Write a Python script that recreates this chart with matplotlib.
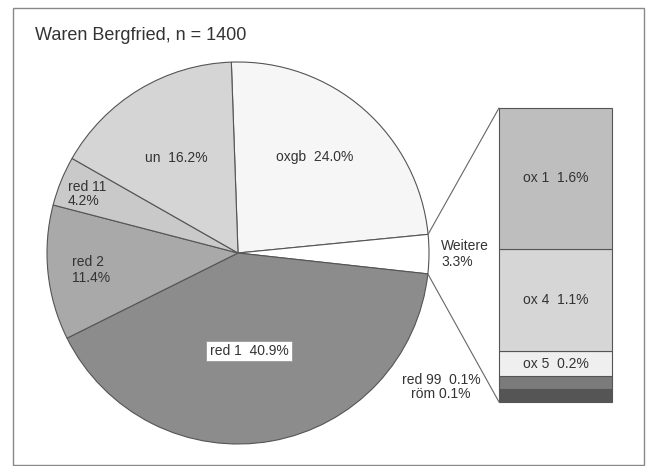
import matplotlib
matplotlib.use('Agg')
import matplotlib.pyplot as plt
from matplotlib.patches import ConnectionPatch, Rectangle
import numpy as np

plt.rcParams['font.family'] = ['Liberation Sans', 'DejaVu Sans']

# Pie data (clockwise from top)
pie_labels = ['oxgb', 'Weitere', 'red 1', 'red 2', 'red 11', 'un']
pie_values = [24.0, 3.3, 40.9, 11.4, 4.2, 16.2]
pie_colors = ['#f6f6f6', '#ffffff', '#8c8c8c', '#a9a9a9', '#c9c9c9', '#d5d5d5']

# Breakdown of "Weitere" (bottom to top), estimated counts out of n = 1400
sub_labels = ['röm', 'red 99', 'ox 5', 'ox 4', 'ox 1']
sub_counts = [2, 2, 4, 16, 22]
sub_pct = [0.1, 0.1, 0.2, 1.1, 1.6]
sub_colors = ['#555555', '#7b7b7b', '#efefef', '#d6d6d6', '#bebebe']

W, H = 646, 466
fig = plt.figure(figsize=(W / 100, H / 100), dpi=100)
text_col = '#333333'
edge_col = '#555555'

# frame around the whole chart
fig.patches.append(Rectangle((13 / W, 1 / H), 631 / W, 457 / H, transform=fig.transFigure,
                             fill=False, edgecolor='#888888', lw=1.0))

fig.text(35 / W, 1 - 35 / H, 'Waren Bergfried, n = 1400', fontsize=13,
         color=text_col, va='center', ha='left')

# pie axes
cx, cy, r = 238, 253, 191
ax = fig.add_axes([(cx - r) / W, (H - cy - r) / H, 2 * r / W, 2 * r / H])
wedges, _ = ax.pie(pie_values, colors=pie_colors, startangle=92, counterclock=False,
                   radius=1, wedgeprops=dict(edgecolor=edge_col, linewidth=0.8))
ax.set_xlim(-1, 1)
ax.set_ylim(-1, 1)
ax.set_aspect('equal')
ax.axis('off')

fs = 10
ax.text(0.40, 0.50, 'oxgb  24.0%', fontsize=fs, color=text_col, ha='center', va='center')
ax.text(-0.325, 0.50, 'un  16.2%', fontsize=fs, color=text_col, ha='center', va='center')
ax.text(-0.89, 0.31, 'red 11\n4.2%', fontsize=fs, color=text_col, ha='left', va='center',
        linespacing=0.95)
ax.text(-0.87, -0.09, 'red 2\n11.4%', fontsize=fs, color=text_col, ha='left', va='center',
        linespacing=1.2)
ax.text(0.058, -0.513, 'red 1  40.9%', fontsize=fs, color=text_col, ha='center', va='center',
        bbox=dict(facecolor='white', edgecolor='#999999', lw=0.6, pad=2.5))
ax.text(1.063, -0.005, 'Weitere\n3.3%', fontsize=fs, color=text_col, ha='left', va='center',
        linespacing=1.2, clip_on=False)
ax.text(1.063, -0.70, 'red 99  0.1%\nröm 0.1%', fontsize=fs, color=text_col, ha='center',
        va='center', linespacing=1.0, clip_on=False)

# bar axes for "Weitere"
bx0, bx1, by0, by1 = 499, 612, 108, 402
bax = fig.add_axes([bx0 / W, (H - by1) / H, (bx1 - bx0) / W, (by1 - by0) / H])
bottom = 0
for lab, cnt, pct, col in zip(sub_labels, sub_counts, sub_pct, sub_colors):
    bax.bar(0, cnt, width=1, bottom=bottom, color=col, edgecolor=edge_col, linewidth=0.8,
            clip_on=False)
    if lab.startswith('ox'):
        bax.text(0, bottom + cnt / 2, f'{lab}  {pct}%', fontsize=fs, color=text_col,
                 ha='center', va='center')
    bottom += cnt
total = bottom
bax.set_xlim(-0.5, 0.5)
bax.set_ylim(0, total)
bax.axis('off')

# connection lines from pie wedge to bar
w = wedges[1]
for ang, yb in [(w.theta2, total), (w.theta1, 0)]:
    x = np.cos(np.radians(ang)) * w.r
    y = np.sin(np.radians(ang)) * w.r
    con = ConnectionPatch(xyA=(-0.5, yb), coordsA=bax.transData, xyB=(x, y),
                          coordsB=ax.transData, color='#666666', linewidth=0.8)
    fig.add_artist(con)

fig.savefig('out.png', dpi=100)
